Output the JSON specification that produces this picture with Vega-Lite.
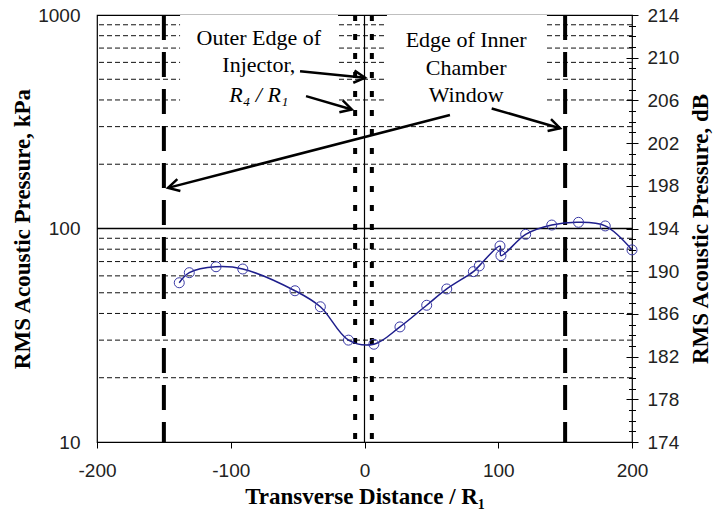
{
  "$schema": "https://vega.github.io/schema/vega-lite/v6.json",
  "width": 535,
  "height": 427,
  "autosize": {"type": "none"},
  "padding": {"left": 97, "top": 15, "right": 81, "bottom": 70},
  "background": "white",
  "config": {
    "view": {"stroke": "black", "strokeWidth": 1.2},
    "axis": {
      "labelFont": "Liberation Sans",
      "labelFontSize": 19,
      "labelColor": "#222",
      "labelFlush": false,
      "labelOverlap": false,
      "titleFont": "Liberation Serif",
      "titleFontSize": 23,
      "titleFontWeight": "bold",
      "titleColor": "black",
      "tickColor": "black",
      "domainColor": "black",
      "grid": false
    }
  },
  "datasets": {
    "meas": [
      {"x": -138.5, "p": 55.7},
      {"x": -131, "p": 62.1},
      {"x": -111, "p": 66.2},
      {"x": -91, "p": 64.6},
      {"x": -52, "p": 51.1},
      {"x": -33, "p": 43.0},
      {"x": -12, "p": 30.0},
      {"x": 7, "p": 28.7},
      {"x": 26.5, "p": 34.6},
      {"x": 46.5, "p": 43.7},
      {"x": 61.5, "p": 52.1},
      {"x": 81.4, "p": 62.8},
      {"x": 85.8, "p": 66.8},
      {"x": 101.3, "p": 82.8},
      {"x": 102, "p": 74.6},
      {"x": 120.5, "p": 93.9},
      {"x": 140, "p": 103.8},
      {"x": 160, "p": 106.9},
      {"x": 180, "p": 102.8},
      {"x": 200, "p": 79.4}
    ],
    "grid": [
      {"p": 20}, {"p": 30}, {"p": 40}, {"p": 50}, {"p": 60}, {"p": 70}, {"p": 80}, {"p": 90},
      {"p": 200}, {"p": 300}, {"p": 400}, {"p": 500}, {"p": 600}, {"p": 700}, {"p": 800}, {"p": 900}
    ],
    "boxes": [
      {"x": -137.9, "x2": -19.8, "p": 350, "p2": 1000},
      {"x": 16.8, "x2": 136.4, "p": 350, "p2": 1000}
    ],
    "labels": [
      {"x": -79, "p": 780, "t": "Outer Edge of"},
      {"x": -79, "p": 583, "t": "Injector,"},
      {"x": 76, "p": 763, "t": "Edge of Inner"},
      {"x": 76, "p": 565, "t": "Chamber"},
      {"x": 76, "p": 422, "t": "Window"}
    ],
    "arrows": [
      {"id": 1, "x": -48.2, "p": 545, "x2": 0.4, "p2": 508},
      {"id": 2, "x": -43.7, "p": 417, "x2": -9.5, "p2": 361},
      {"id": 3, "x": 63.9, "p": 340, "x2": -146.9, "p2": 155},
      {"id": 4, "x": 95.1, "p": 365, "x2": 146.2, "p2": 295}
    ]
  },
  "layer": [
    {
      "layer": [
        {
          "data": {"name": "grid"},
          "mark": {"type": "rule", "strokeDash": [5, 3], "color": "#111", "strokeWidth": 1},
          "encoding": {
            "y": {
              "field": "p", "type": "quantitative",
              "scale": {"type": "log", "domain": [10, 1000], "nice": false},
              "axis": {
                "orient": "left",
                "values": [10, 100, 1000],
                "format": "d",
                "ticks": false,
                "domain": false,
                "labelPadding": 17,
                "title": "RMS Acoustic Pressure, kPa",
                "titleX": -75,
                "titleY": 213.5,
                "titleAngle": 270,
                "titleAlign": "center",
                "titleBaseline": "middle"
              }
            }
          }
        },
        {
          "data": {"name": "boxes"},
          "mark": {"type": "rect", "fill": "white"},
          "encoding": {
            "x": {
              "field": "x", "type": "quantitative",
              "scale": {"domain": [-200, 200], "nice": false},
              "axis": {
                "values": [-200, -100, 0, 100, 200],
                "labelExpr": "'' + datum.value",
                "tickSize": 6,
                "domain": false,
                "labelPadding": 13,
                "title": "Transverse Distance / R₁",
                "titleY": 54,
                "titleBaseline": "middle"
              }
            },
            "x2": {"field": "x2"},
            "y": {"field": "p", "type": "quantitative"},
            "y2": {"field": "p2"}
          }
        },
        {
          "data": {"values": [{"p": 100}]},
          "mark": {"type": "rule", "color": "black", "strokeWidth": 1.3},
          "encoding": {"y": {"field": "p", "type": "quantitative"}}
        },
        {
          "data": {"values": [{"x": -150}, {"x": 150}]},
          "mark": {"type": "rule", "color": "black", "strokeWidth": 4, "strokeDash": [25, 12]},
          "encoding": {"x": {"field": "x", "type": "quantitative"}}
        },
        {
          "data": {"values": [{"x": -7}, {"x": 5.5}]},
          "mark": {"type": "rule", "color": "black", "strokeWidth": 4, "strokeDash": [6, 13]},
          "encoding": {"x": {"field": "x", "type": "quantitative"}}
        },
        {
          "data": {"values": [{"x": 0}]},
          "mark": {"type": "rule", "color": "black", "strokeWidth": 1.2},
          "encoding": {"x": {"field": "x", "type": "quantitative"}}
        },
        {
          "data": {"name": "labels"},
          "mark": {"type": "text", "font": "Liberation Serif", "fontSize": 22, "color": "black", "align": "center", "baseline": "middle"},
          "encoding": {
            "x": {"field": "x", "type": "quantitative"},
            "y": {"field": "p", "type": "quantitative"},
            "text": {"field": "t"}
          }
        },
        {
          "data": {"values": [{"x": -79, "p": 422, "t": "R₄ / R₁"}]},
          "mark": {"type": "text", "font": "Liberation Serif", "fontSize": 22, "fontStyle": "italic", "color": "black", "align": "center", "baseline": "middle"},
          "encoding": {
            "x": {"field": "x", "type": "quantitative"},
            "y": {"field": "p", "type": "quantitative"},
            "text": {"field": "t"}
          }
        },
        {
          "data": {"name": "arrows"},
          "mark": {"type": "rule", "color": "black", "strokeWidth": 2.5},
          "encoding": {
            "x": {"field": "x", "type": "quantitative"},
            "x2": {"field": "x2"},
            "y": {"field": "p", "type": "quantitative"},
            "y2": {"field": "p2"}
          }
        },
        {
          "data": {"name": "arrows"},
          "transform": [{"filter": "datum.id == 1"}],
          "mark": {"type": "point", "shape": "M -1 -0.55 L 0 0 L -1 0.55", "filled": false, "stroke": "black", "strokeWidth": 2.5, "size": 500, "angle": 6, "opacity": 1},
          "encoding": {"x": {"field": "x2", "type": "quantitative"}, "y": {"field": "p2", "type": "quantitative"}}
        },
        {
          "data": {"name": "arrows"},
          "transform": [{"filter": "datum.id == 2"}],
          "mark": {"type": "point", "shape": "M -1 -0.55 L 0 0 L -1 0.55", "filled": false, "stroke": "black", "strokeWidth": 2.5, "size": 500, "angle": 16, "opacity": 1},
          "encoding": {"x": {"field": "x2", "type": "quantitative"}, "y": {"field": "p2", "type": "quantitative"}}
        },
        {
          "data": {"name": "arrows"},
          "transform": [{"filter": "datum.id == 3"}],
          "mark": {"type": "point", "shape": "M -1 -0.55 L 0 0 L -1 0.55", "filled": false, "stroke": "black", "strokeWidth": 2.5, "size": 500, "angle": 165.7, "opacity": 1},
          "encoding": {"x": {"field": "x2", "type": "quantitative"}, "y": {"field": "p2", "type": "quantitative"}}
        },
        {
          "data": {"name": "arrows"},
          "transform": [{"filter": "datum.id == 4"}],
          "mark": {"type": "point", "shape": "M -1 -0.55 L 0 0 L -1 0.55", "filled": false, "stroke": "black", "strokeWidth": 2.5, "size": 500, "angle": 16, "opacity": 1},
          "encoding": {"x": {"field": "x2", "type": "quantitative"}, "y": {"field": "p2", "type": "quantitative"}}
        },
        {
          "data": {"name": "meas"},
          "mark": {"type": "line", "interpolate": "catmull-rom", "color": "#1e1e8c", "strokeWidth": 1.5},
          "encoding": {
            "x": {"field": "x", "type": "quantitative"},
            "y": {"field": "p", "type": "quantitative"}
          }
        },
        {
          "data": {"name": "meas"},
          "mark": {"type": "point", "filled": false, "stroke": "#3a3aa6", "strokeWidth": 1, "size": 100, "opacity": 1},
          "encoding": {
            "x": {"field": "x", "type": "quantitative"},
            "y": {"field": "p", "type": "quantitative"}
          }
        }
      ]
    },
    {
      "data": {"values": [{"db": 174}, {"db": 214}]},
      "mark": {"type": "point", "opacity": 0},
      "encoding": {
        "y": {
          "field": "db", "type": "quantitative",
          "scale": {"domain": [174, 214], "nice": false, "zero": false},
          "axis": {
            "orient": "right",
            "values": [174, 178, 182, 186, 190, 194, 198, 202, 206, 210, 214],
            "tickSize": 12,
            "offset": -6,
            "domain": false,
            "labelPadding": 9,
            "title": "RMS Acoustic Pressure, dB",
            "titleX": 74,
            "titleY": 213.5,
            "titleAngle": 270,
            "titleAlign": "center",
            "titleBaseline": "middle"
          }
        }
      }
    },
    {
      "data": {"values": [{"db2": 174}, {"db2": 214}]},
      "mark": {"type": "point", "opacity": 0},
      "encoding": {
        "y": {
          "field": "db2", "type": "quantitative",
          "scale": {"domain": [174, 214], "nice": false, "zero": false},
          "axis": {
            "orient": "right",
            "values": [174, 175, 176, 177, 178, 179, 180, 181, 182, 183, 184, 185, 186, 187, 188, 189, 190, 191, 192, 193, 194, 195, 196, 197, 198, 199, 200, 201, 202, 203, 204, 205, 206, 207, 208, 209, 210, 211, 212, 213, 214],
            "tickSize": 7,
            "offset": -3.5,
            "domain": false,
            "labels": false,
            "title": null
          }
        }
      }
    }
  ],
  "resolve": {"scale": {"y": "independent"}, "axis": {"y": "independent"}}
}
